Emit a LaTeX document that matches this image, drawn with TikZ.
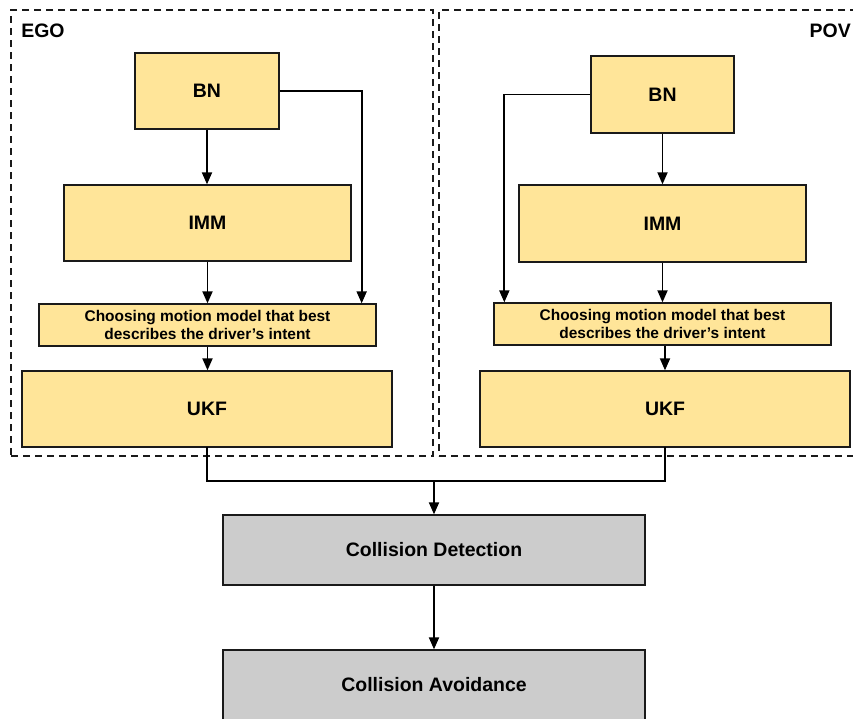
\documentclass[tikz,border=0pt]{standalone}
\usepackage{fontspec}
\setmainfont{Liberation Sans}
\usetikzlibrary{arrows.meta}
\definecolor{stagefill}{HTML}{FFE599}
\definecolor{outfill}{HTML}{CCCCCC}
\definecolor{edgecol}{HTML}{1A1A1A}
\tikzset{
  box/.style={draw=edgecol, line width=1pt, inner sep=0pt, align=center,
    font=\bfseries\fontsize{14.6}{17}\selectfont},
  stage/.style={box, fill=stagefill},
  outbox/.style={box, fill=outfill},
  pick/.style={stage, font=\bfseries\fontsize{11.6}{14}\selectfont},
  group/.style={draw=edgecol, line width=1pt, dash pattern=on 5.25pt off 3.75pt, inner sep=0pt},
  flow/.style={draw=black, line width=1.4pt, -{Triangle[length=9pt,width=7.5pt]}},
  link/.style={draw=black, line width=1.4pt},
  grouplabel/.style={font=\bfseries\fontsize{14.6}{17}\selectfont, inner sep=0pt}
}
\begin{document}
\begin{tikzpicture}[x=0.75pt,y=-0.75pt]
\useasboundingbox (0,0) rectangle (853,718);
\clip (0,0) rectangle (853,718);
\fill[white] (0,0) rectangle (853,718);

% dashed groups
\node[group, minimum width=316.5pt, minimum height=334.5pt] (egoGroup) at (222,233) {};
\node[group, minimum width=313.5pt, minimum height=334.5pt] (povGroup) at (648,233) {};
\node[grouplabel, anchor=west] (egoLabel) at (21,31) {EGO};
\node[grouplabel, anchor=east] (povLabel) at (851,31) {POV};

% EGO chain
\node[stage, minimum width=108pt, minimum height=57pt] (egoBN) at (207,91) {BN};
\node[stage, minimum width=215.25pt, minimum height=57pt] (egoIMM) at (207.5,223) {IMM};
\node[pick, minimum width=252.75pt, minimum height=31.5pt] (egoPick) at (207.5,325)
  {Choosing motion model that best\\describes the driver’s intent};
\node[stage, minimum width=277.5pt, minimum height=57pt] (egoUKF) at (207,409) {UKF};

% POV chain
\node[stage, minimum width=107.25pt, minimum height=57.75pt] (povBN) at (662.5,94.5) {BN};
\node[stage, minimum width=215.25pt, minimum height=57.75pt] (povIMM) at (662.5,223.5) {IMM};
\node[pick, minimum width=252.75pt, minimum height=31.5pt] (povPick) at (662.5,324)
  {Choosing motion model that best\\describes the driver’s intent};
\node[stage, minimum width=277.5pt, minimum height=57pt] (povUKF) at (665,409) {UKF};

% shared stages
\node[outbox, minimum width=316.5pt, minimum height=52.5pt] (detect) at (434,550) {Collision Detection};
\node[outbox, minimum width=316.5pt, minimum height=52.5pt] (avoid) at (434,685) {Collision Avoidance};

% EGO connectors
\draw[flow] (egoBN.south) -- (egoBN.south |- egoIMM.north);
\draw[flow] (egoIMM.south) -- (egoIMM.south |- egoPick.north);
\draw[flow] (egoBN.east) -| ([xshift=-11.25pt]egoPick.north east);
\draw[flow] (egoPick.south) -- (egoPick.south |- egoUKF.north);

% POV connectors
\draw[flow] (povBN.south) -- (povBN.south |- povIMM.north);
\draw[flow] (povIMM.south) -- (povIMM.south |- povPick.north);
\draw[flow] (povBN.west) -| ([xshift=8.25pt]povPick.north west);
\draw[flow] (povUKF.north |- povPick.south) -- (povUKF.north);

% merge into collision detection
\coordinate (merge) at (434,481);
\draw[link, line cap=rect] (egoUKF.south) |- (merge);
\draw[link, line cap=rect] (povUKF.south) |- (merge);
\draw[flow] (merge) -- (detect.north);
\draw[flow] (detect.south) -- (avoid.north);
\end{tikzpicture}
\end{document}
